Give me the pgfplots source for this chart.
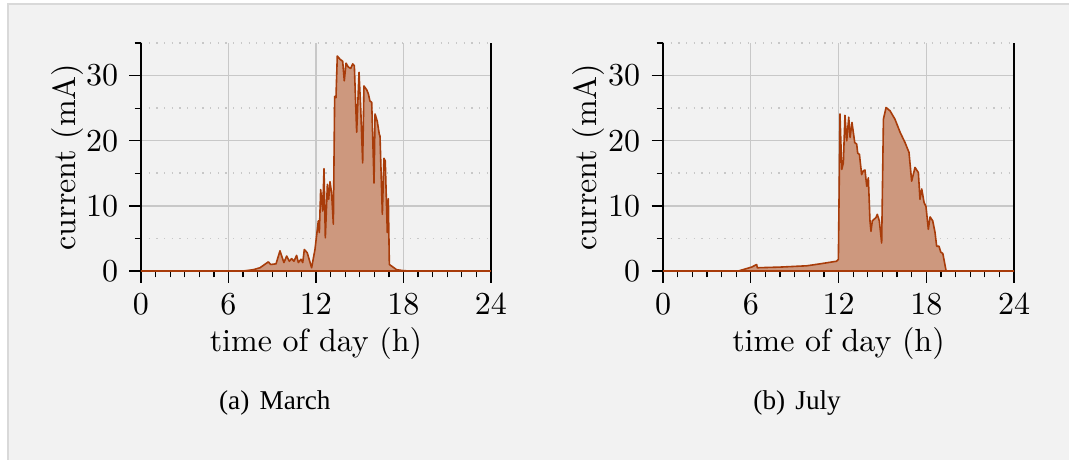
\documentclass[border=0pt]{standalone}
\usepackage{pgfplots}
\pgfplotsset{compat=1.18}
\usepackage{fontspec}
\IfFontExistsTF{LiberationSerif-Regular.ttf}
  {\newfontfamily\capfont{LiberationSerif-Regular.ttf}}
  {\newfontfamily\capfont{Liberation Serif}}
\definecolor{bgc}{HTML}{F2F2F2}
\definecolor{framec}{HTML}{D9D9D9}
\definecolor{fillc}{HTML}{CD987E}
\definecolor{linec}{HTML}{A83C0A}
\definecolor{gridc}{HTML}{C8C8C8}

\pgfplotstableread{
x y
0 0
7.0 0
7.7 0.2
8.16 0.5
8.73 1.4
8.9 1.0
9.26 1.1
9.53 3.1
9.8 1.3
9.99 2.3
10.17 1.5
10.33 1.9
10.49 1.5
10.67 2.4
10.79 1.3
10.97 1.8
11.09 1.3
11.2 3.3
11.4 2.8
11.7 0.5
11.93 3.3
12.16 7.7
12.23 5.9
12.32 12.5
12.46 9.2
12.55 15.7
12.64 5.1
12.78 13.3
12.87 11.0
12.96 13.7
13.07 12.0
13.19 7.2
13.28 26.8
13.37 26.6
13.46 33.0
13.65 32.5
13.83 32.2
13.94 29.2
14.06 31.9
14.22 31.3
14.38 31.1
14.52 31.8
14.63 31.5
14.79 21.3
14.95 30.5
15.07 24.8
15.2 16.6
15.29 28.4
15.48 27.8
15.59 27.2
15.7 26.1
15.82 25.9
15.98 13.5
16.05 24.1
16.2 23.0
16.34 21.0
16.39 20.7
16.55 8.7
16.66 17.3
16.75 16.9
16.89 5.9
16.96 11.1
17.03 1.0
17.19 0.75
17.53 0.2
17.99 0.05
18.5 0
24 0
}\march

\pgfplotstableread{
x y
0 0
5.15 0
6.06 0.6
6.4 1.0
6.45 0.5
8.0 0.6
9.83 0.8
10.74 1.1
11.87 1.5
11.99 1.8
12.1 24.1
12.22 15.6
12.33 16.6
12.44 23.9
12.56 20.0
12.7 23.6
12.79 20.5
12.92 22.8
13.11 19.7
13.24 19.5
13.31 18.1
13.43 17.9
13.58 14.8
13.7 15.4
13.81 15.5
13.93 13.0
14.04 14.3
14.15 7.7
14.22 6.1
14.31 7.7
14.56 8.2
14.65 8.7
14.79 7.7
14.95 4.3
15.07 23.3
15.25 25.1
15.52 24.6
15.86 23.3
16.21 21.3
16.55 19.7
16.82 18.2
17.0 13.8
17.23 15.9
17.46 15.1
17.57 11.0
17.69 12.6
17.85 10.5
17.98 9.9
18.14 6.4
18.26 8.3
18.44 7.7
18.6 5.9
18.71 3.8
18.87 3.8
18.99 2.9
19.13 2.7
19.35 0.1
19.45 0
24 0
}\july

\pgfplotsset{
  myaxis/.style={
    scale only axis,
    height=71.25pt,
    xmin=0, xmax=24, ymin=0, ymax=35,
    axis x line=bottom,
    axis y line=box,
    x axis line style={-},
    y axis line style={-},
    ytick pos=left,
    xtick={0,6,12,18,24},
    minor xtick={1,2,3,4,5,7,8,9,10,11,13,14,15,16,17,19,20,21,22,23},
    ytick={0,10,20,30},
    minor ytick={5,15,25,35},
    tick align=outside,
    major tick length=3.6pt,
    minor tick length=2pt,
    every tick/.style={black, line width=0.4pt},
    grid=both,
    major grid style={gridc, line width=0.4pt},
    minor x grid style={draw=none},
    minor y grid style={gridc, dotted, line width=0.5pt},
    xlabel={time of day (h)},
    ylabel={current (mA)},
    xlabel shift=-2.8pt,
    ylabel style={at={(axis description cs:-0.1883,0.5)}, anchor=base},
    axis background/.style={fill=bgc},
  },
  mydata/.style={fill=fillc, draw=linec, line width=0.5pt, line join=round},
}

\begin{document}
\begin{tikzpicture}
\useasboundingbox (0,0) rectangle (334.06pt,-143.75pt);
\fill[white] (0,0) rectangle (334.06pt,-143.75pt);
\fill[bgc] (2.5pt,-1.25pt) rectangle (334.06pt,-143.75pt);
\draw[framec, line width=0.6pt] (2.5pt,-143.75pt) -- (2.5pt,-1.25pt) -- (334.06pt,-1.25pt);

\begin{axis}[myaxis, width=109.375pt, at={(44.06pt,-84.69pt)}, anchor=south west]
\addplot[mydata] table[x=x,y=y] {\march} \closedcycle;
\end{axis}

\begin{axis}[myaxis, width=109.69pt, at={(207.19pt,-84.69pt)}, anchor=south west]
\addplot[mydata] table[x=x,y=y] {\july} \closedcycle;
\end{axis}

\node[font=\capfont\fontsize{8.5}{10}\selectfont, anchor=base] at (85.9pt,-128.1pt) {(a)\hspace{3.2pt}March};
\node[font=\capfont\fontsize{8.5}{10}\selectfont, anchor=base] at (249.1pt,-128.1pt) {(b)\hspace{3.2pt}July};
\end{tikzpicture}
\end{document}
